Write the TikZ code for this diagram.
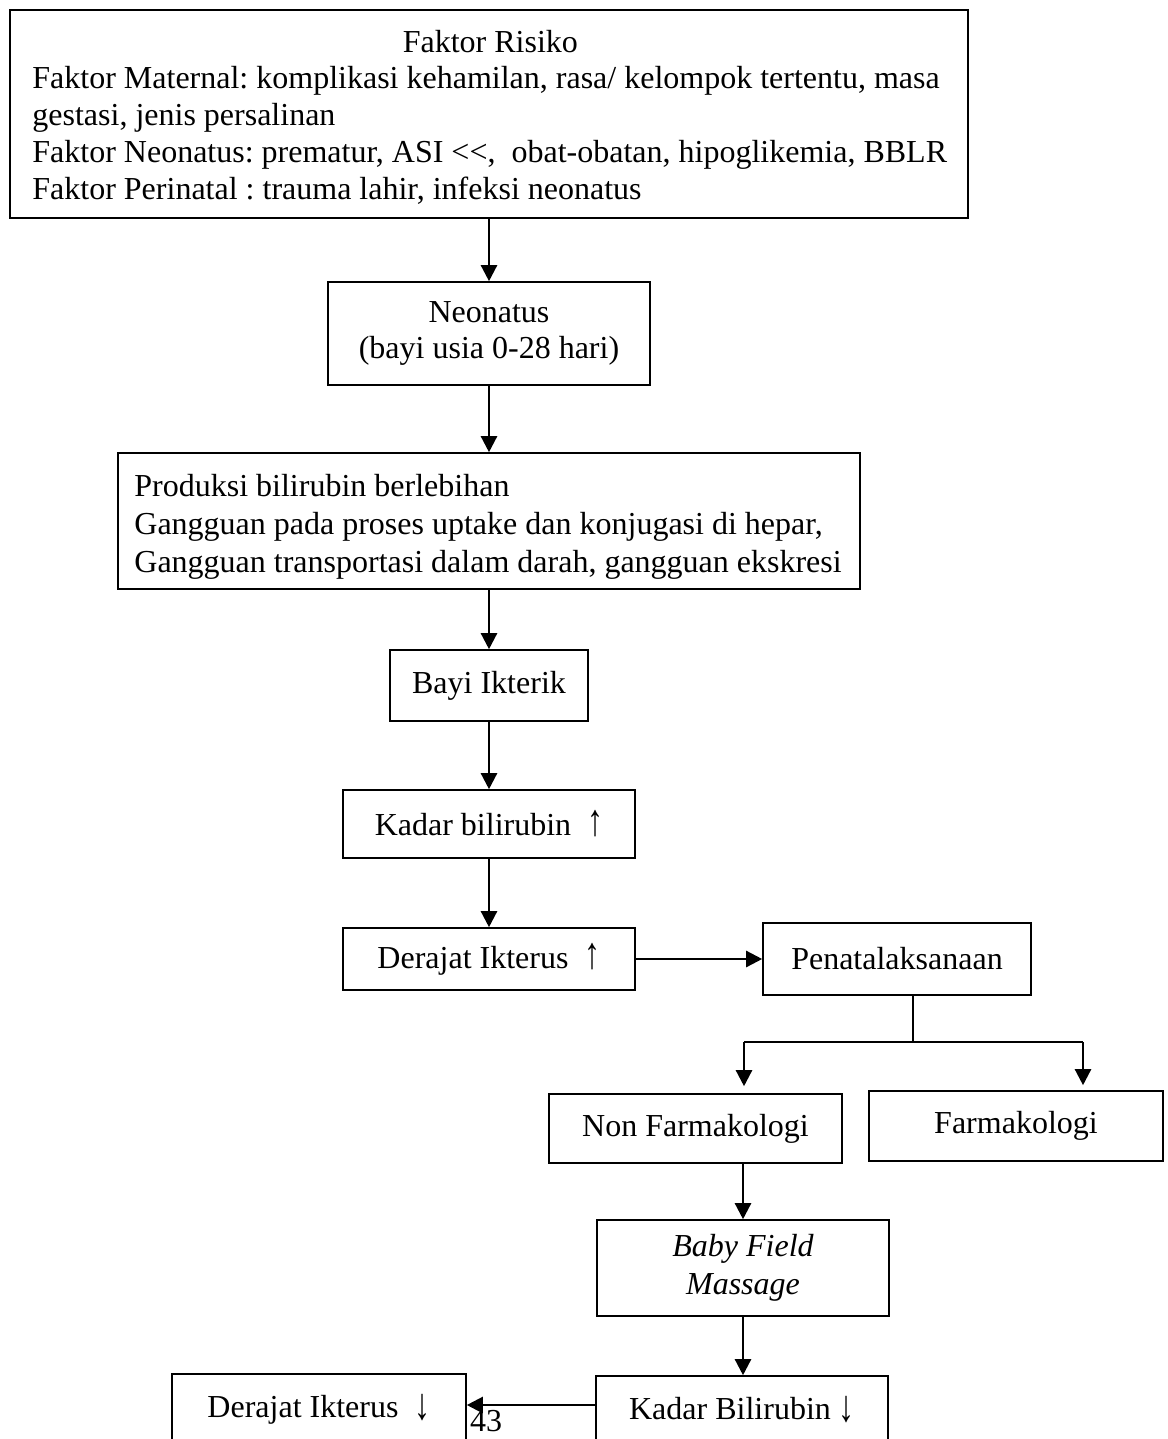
\documentclass[tikz,border=0pt]{standalone}
\usepackage{fontspec}
\usepackage{graphicx}
\setmainfont{Liberation Serif}
\usetikzlibrary{arrows.meta,calc}
\frenchspacing
\newcommand{\myup}{\scalebox{1}[1.4]{↑}}
\newcommand{\mydown}{\raisebox{-1pt}{\scalebox{1}[1.4]{↓}}}
\begin{document}
\begin{tikzpicture}[x=0.5pt,y=-0.5pt,
  every node/.style={font=\fontsize{16}{18.4}\selectfont},
  box/.style={draw,line width=0.8pt,inner sep=0pt,align=center},
  txt/.style={inner sep=0pt,align=flush left},
  arr/.style={line width=1.2pt,-{Triangle[length=8pt,width=8pt]}},
  ln/.style={line width=1.2pt}]
\clip (0,0) rectangle (1167,1439);
% boxes
\node[box,minimum width=958*0.5pt,minimum height=208*0.5pt] (risk) at (489,114) {};
\node[txt,anchor=west,text width=470pt] (risktext) at (32,117)
  {\makebox[458pt]{Faktor Risiko}\\
   Faktor Maternal: komplikasi kehamilan, rasa/ kelompok tertentu, masa\\
   gestasi, jenis persalinan\\
   Faktor Neonatus: prematur, ASI <\kern0pt<,\ \ obat-obatan, hipoglikemia, BBLR\\
   Faktor Perinatal : trauma lahir, infeksi neonatus};
\node[box,minimum width=322*0.5pt,minimum height=103*0.5pt] (neo) at (489,333.5)
  {Neonatus\\(bayi usia 0-28 hari)};
\node[box,minimum width=742*0.5pt,minimum height=136*0.5pt] (prod) at (489,521) {};
\node[txt,anchor=west,font=\fontsize{16}{19}\selectfont] (prodtext) at (134,527)
  {Produksi bilirubin berlebihan\\
   Gangguan pada proses uptake dan konjugasi di hepar,\\
   Gangguan transportasi dalam darah, gangguan ekskresi};
\node[box,minimum width=198*0.5pt,minimum height=71*0.5pt] (bayi) at (489,685.5) {Bayi Ikterik};
\node[box,minimum width=292*0.5pt,minimum height=68*0.5pt] (kadar) at (489,824) {Kadar bilirubin\ \ \myup};
\node[box,minimum width=292*0.5pt,minimum height=62*0.5pt] (der) at (489,959) {Derajat Ikterus\ \ \myup};
\node[box,minimum width=268*0.5pt,minimum height=72*0.5pt] (pen) at (897,959) {Penatalaksanaan};
\node[box,minimum width=293*0.5pt,minimum height=69*0.5pt] (nf) at (695.5,1128.5) {Non Farmakologi};
\node[box,minimum width=294*0.5pt,minimum height=70*0.5pt] (fk) at (1016,1126) {Farmakologi};
\node[box,minimum width=292*0.5pt,minimum height=96*0.5pt,font=\fontsize{16}{19}\selectfont\itshape] (bm) at (743,1268) {Baby Field\\Massage};
\node[box,minimum width=292*0.5pt,minimum height=68*0.5pt] (k2) at (742,1410) {Kadar Bilirubin \mydown};
\node[box,minimum width=294*0.5pt,minimum height=70*0.5pt] (d2) at (319,1409) {Derajat Ikterus\ \ \mydown};
\node[inner sep=0pt] (pg) at (486,1421) {43};
% junction coordinates
\coordinate (j) at (913,1042);
\coordinate (jl) at (744,1042);
\coordinate (jr) at (1083,1042);
% connectors
\draw[arr] (risk.south) -- (neo.north);
\draw[arr] (neo.south) -- (prod.north);
\draw[arr] (prod.south) -- (bayi.north);
\draw[arr] (bayi.south) -- (kadar.north);
\draw[arr] (kadar.south) -- (der.north);
\draw[arr] (der.east) -- (der.east -| pen.west);
\draw[ln] (j |- pen.south) -- (j);
\draw[ln] (jl) -- (jr);
\draw[arr,shorten >=3.5pt] (jl) -- (jl |- nf.north);
\draw[arr,shorten >=2.5pt] (jr) -- (jr |- fk.north);
\draw[arr] (bm.north |- nf.south) -- (bm.north);
\draw[arr] (bm.south) -- (bm.south |- k2.north);
\draw[arr] ($(k2.west)+(0,-5)$) -- ($(k2.west -| d2.east)+(0,-5)$);
\end{tikzpicture}
\end{document}
